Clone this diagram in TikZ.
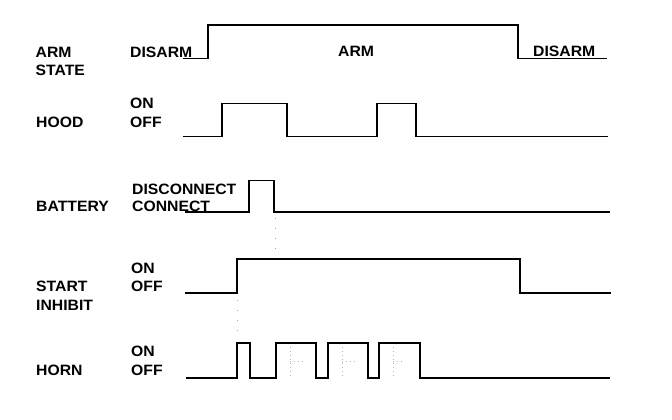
\documentclass[tikz,border=0pt]{standalone}
\usepackage{fontspec}
\setmainfont{Liberation Sans}[FakeStretch=1.05]
\begin{document}
\begin{tikzpicture}[x=1pt,y=-1pt,
  lbl/.style={anchor=base west,inner sep=0pt,font=\fontsize{15}{17}\selectfont\bfseries},
  wave/.style={line width=1.7pt,line join=miter},
  guide/.style={gray!70,line width=0.8pt,dash pattern=on 1pt off 9pt},
  shade/.style={gray!60,line width=0.8pt,dash pattern=on 1pt off 3pt}]
\useasboundingbox (0,0) rectangle (672,420);
% labels
\node[lbl] (armL) at (35.5,57.5) {ARM};
\node[lbl] (stateL) at (35.5,75.5) {STATE};
\node[lbl] (disarm1) at (130,57.5) {DISARM};
\node[lbl] (arm2) at (338,57) {ARM};
\node[lbl] (disarm2) at (533,57) {DISARM};
\node[lbl] (hoodL) at (36,127.5) {HOOD};
\node[lbl] (hon) at (130,108) {ON};
\node[lbl] (hoff) at (130,127.5) {OFF};
\node[lbl] (batL) at (36,211.5) {BATTERY};
\node[lbl] (disc) at (132,194.5) {DISCONNECT};
\node[lbl] (conn) at (132,211.5) {CONNECT};
\node[lbl] (startL) at (36,291) {START};
\node[lbl] (inhL) at (36,310.5) {INHIBIT};
\node[lbl] (son) at (131,273) {ON};
\node[lbl] (soff) at (131,291) {OFF};
\node[lbl] (hornL) at (36,375.5) {HORN};
\node[lbl] (hnon) at (131,356.5) {ON};
\node[lbl] (hnoff) at (131,375.5) {OFF};
% waveforms
\draw[wave] (183,58.5) -- (208,58.5) -- (208,25) -- (518,25) -- (518,58.5) -- (607,58.5);
\draw[wave] (183,136.5) -- (222,136.5) -- (222,103.5) -- (287,103.5) -- (287,136.5)
  -- (377,136.5) -- (377,103.5) -- (416,103.5) -- (416,136.5) -- (608,136.5);
\draw[wave] (185,212) -- (249,212) -- (249,180.5) -- (274,180.5) -- (274,212) -- (610,212);
\draw[wave] (185,293) -- (237,293) -- (237,259) -- (520,259) -- (520,293) -- (611,293);
\draw[wave] (186,378) -- (237,378) -- (237,343) -- (250,343) -- (250,378) -- (276,378)
  -- (276,343) -- (316,343) -- (316,378) -- (328,378) -- (328,343) -- (368,343)
  -- (368,378) -- (379,378) -- (379,343) -- (420,343) -- (420,378) -- (610,378);
% faint guides
\draw[guide] (275,218) -- (275,256);
\draw[guide] (237,300) -- (237,340);
\draw[shade] (290,347) -- (290,376) (290,361) -- (305,361);
\draw[shade] (342,347) -- (342,376) (342,361) -- (355,361);
\draw[shade] (393,347) -- (393,376) (393,361) -- (405,361);
\end{tikzpicture}
\end{document}
